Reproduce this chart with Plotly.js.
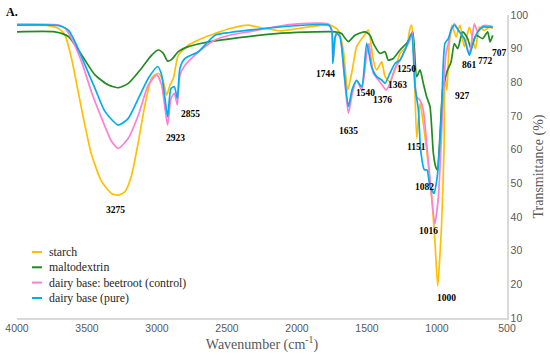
<!DOCTYPE html>
<html>
<head>
<meta charset="utf-8">
<script src="https://cdn.plot.ly/plotly-3.0.1.min.js"></script>
<style>html,body{margin:0;padding:0;background:#fff;}#chart{width:550px;height:356px;}</style>
</head>
<body>
<div id="chart"></div>
<script>
// ---- data (wavenumber cm-1, transmittance %) ----
const starchWn = [4000,3800,3705,3657,3610,3562,3514,3467,3395,3324,3276,3229,3181,3133,3086,3038,2990,2955,2931,2907,2883,2848,2776,2681,2586,2480,2348,2300,2229,2157,2110,1990,1871,1764,1705,1669,1638,1605,1574,1526,1490,1455,1431,1395,1371,1336,1300,1264,1217,1193,1181,1164,1145,1121,1098,1074,1038,1014,995,980,967,950,943,929,915,893,864,836,805,769,726,697,662,626,602];
const starchT  = [97,97,96,94,87,77,67,58.4,50.5,47,46.5,47.5,52.5,62.4,73.3,81.2,82.7,80.2,76.2,79.2,81.2,88,91,93,94.5,96,97,96.6,96,95.5,95.3,96,96.7,97,95.5,89.6,77.7,83.7,90.6,93.6,95.5,86.6,83.7,86.1,81.7,80.2,83.7,88.6,90.6,96,97,86.6,63.4,73.8,67.8,59.9,46,32.2,19.5,28,38,60,82,77.7,90,97,93.5,97,90.5,96.4,90,96.4,95.4,96.4,96];

const maltoWn = [4000,3729,3633,3538,3443,3347,3276,3205,3110,3038,2990,2955,2924,2895,2848,2776,2681,2586,2348,2110,1871,1728,1681,1655,1633,1586,1514,1479,1455,1407,1371,1348,1312,1264,1217,1193,1174,1164,1145,1121,1098,1074,1050,1026,1010,998,979,959,936,926,900,876,852,817,781,757,721,674,638,621,602];
const maltoT  = [95,95,93.6,88.1,82.2,79.2,78.4,79.7,84.2,88.1,89.6,88.6,86.3,86.8,89.1,90.6,91.6,92.3,93.6,94.6,95,95,94.5,93,92.1,94,95,94,91.6,88.6,89.1,86.6,87.1,89.6,91.6,93.1,95,91.6,81.7,83.7,79.7,75.7,72.8,58.9,55,54,63.9,78,82,83.5,86,91.5,90,95,93,90,94,93,95,92,94];

const beetWn = [4000,3700,3657,3610,3538,3467,3395,3324,3276,3205,3133,3062,3002,2967,2943,2924,2900,2876,2855,2836,2800,2729,2657,2586,2480,2348,2157,2014,1776,1752,1742,1725,1717,1693,1662,1633,1605,1574,1538,1502,1486,1455,1419,1383,1364,1336,1300,1264,1229,1193,1176,1162,1145,1121,1098,1074,1045,1016,990,960,936,919,900,876,840,805,769,750,733,709,674,626,602];
const beetT  = [97.3,97,96,93,86,77,69.3,62.4,60.4,63.4,70.3,79.2,82.2,79.2,72.3,67.3,75.2,76.7,73.3,82.2,85.1,88.1,90.6,92.6,94,95,96.5,97.3,97.3,95.5,86.1,93.5,94.5,93.6,81.7,70.8,76.7,80.7,77.7,88.6,91.6,82.7,80.7,78.7,77.7,79.7,84.2,86.6,89.6,92.6,95,84.6,75.7,74.7,71.8,61.9,49,38,46,71.8,88.6,91.6,95,97.4,95,93,88.5,93,97.4,95,96.8,96.8,96.5];

const pureWn = [4000,3700,3633,3574,3514,3443,3371,3276,3205,3133,3062,2995,2967,2943,2924,2900,2876,2855,2836,2800,2705,2586,2480,2348,2157,2014,1776,1752,1744,1730,1717,1693,1662,1633,1605,1574,1538,1502,1467,1431,1395,1371,1336,1300,1264,1229,1193,1181,1157,1133,1117,1090,1071,1050,1021,1005,993,980,967,943,919,900,876,840,805,769,740,709,674,626,602];
const pureT  = [97,96.8,95.5,91,85.1,78.2,71.3,67.3,69.3,75.2,81.2,84.7,82.2,75.2,69.8,78.2,78.7,75.2,84.2,87.1,89.1,94,94.8,95.5,96.3,96.8,97,95.5,85.6,93,94.5,93.6,82.5,72.8,78,80.5,78.7,91.6,84.6,81.7,80.7,79.7,82.7,85.6,86.6,89.6,93.6,94.5,78.7,71.8,60,54,54,49,47,50,54,62,72,91.6,93,95.5,97,95,93,88,92,95,96.4,96.4,96.4];

const seriesNames = ['starch','maltodextrin','dairy base: beetroot (control)','dairy base (pure)'];
const seriesColors = ['#FFC000','#228B22','#FF7FD6','#00AEEF'];

const peakLabels = ['3275','2923','2855','1744','1635','1540','1376','1363','1250','1151','1082','1016','1000','927','861','772','707'];
const peakLabelX = [3300,2871,2764,1800,1629,1514,1386,1279,1221,1150,1086,1064,929,821,771,657,557];
const peakLabelY = [42.1,63.5,70.6,82.5,65.5,76.8,74.8,79.2,84,60.8,48.9,35.8,16,75.9,85.1,86.3,88.7];

const xTicks = [4000,3500,3000,2500,2000,1500,1000,500];
const yTicks = [10,20,30,40,50,60,70,80,90,100];

// ---- build ----
const xs = [starchWn, maltoWn, beetWn, pureWn];
const ys = [starchT, maltoT, beetT, pureT];
const traces = xs.map((x,i)=>({
  x:x, y:ys[i], type:'scatter', mode:'lines', name:seriesNames[i],
  line:{color:seriesColors[i], width:1.7, shape:'spline', smoothing:0.6}, showlegend:false
}));

const serif = 'Liberation Serif, Times New Roman, serif';
const sans = 'Liberation Sans, Arial, sans-serif';

const annotations = peakLabels.map((t,i)=>({
  x:peakLabelX[i], y:peakLabelY[i], xref:'x', yref:'y', text:'<b>'+t+'</b>',
  showarrow:false, font:{family:serif, size:9.5, color:'#000'}
}));
annotations.push({x:0, y:1, xref:'paper', yref:'paper', xanchor:'left', yanchor:'top',
  text:'<b>A.</b>', showarrow:false, font:{family:serif, size:12, color:'#000'},
  xshift:-13, yshift:12});

// custom legend (paper coordinates; plot spans 490 x 303 px)
const shapes = [];
const legendRowsPx = [252, 267.3, 282.6, 298];
seriesNames.forEach((n,i)=>{
  const yp = (318 - legendRowsPx[i]) / 303;
  shapes.push({type:'line', xref:'paper', yref:'paper',
    x0:(32-17)/490, x1:(42-17)/490, y0:yp, y1:yp,
    line:{color:seriesColors[i], width:2}});
  annotations.push({x:(47-17)/490, y:yp, xref:'paper', yref:'paper', xanchor:'left', yanchor:'middle',
    text:n, showarrow:false, font:{family:serif, size:11.8, color:'#262626'}});
});

const layout = {
  width:550, height:356,
  margin:{l:17, r:43, t:15, b:38},
  paper_bgcolor:'#fff', plot_bgcolor:'#fff',
  showlegend:false,
  xaxis:{range:[4000,500], tickvals:xTicks, showgrid:false, zeroline:false,
    showline:true, linecolor:'#d9d9d9', linewidth:1.5, ticks:'',
    tickfont:{family:sans, size:10.5, color:'#595959'},
    title:{text:'Wavenumber (cm<sup>-1</sup>)', font:{family:serif, size:14, color:'#595959'}, standoff:4}},
  yaxis:{range:[10,100], tickvals:yTicks, side:'right', showgrid:false, zeroline:false,
    showline:true, linecolor:'#d9d9d9', linewidth:1.5, ticks:'',
    tickfont:{family:sans, size:10.5, color:'#595959'},
    title:{text:'Transmittance (%)', font:{family:serif, size:14, color:'#595959'}, standoff:6}},
  shapes:shapes,
  annotations:annotations
};

Plotly.newPlot('chart', traces, layout, {staticPlot:true, displayModeBar:false});
</script>
</body>
</html>
